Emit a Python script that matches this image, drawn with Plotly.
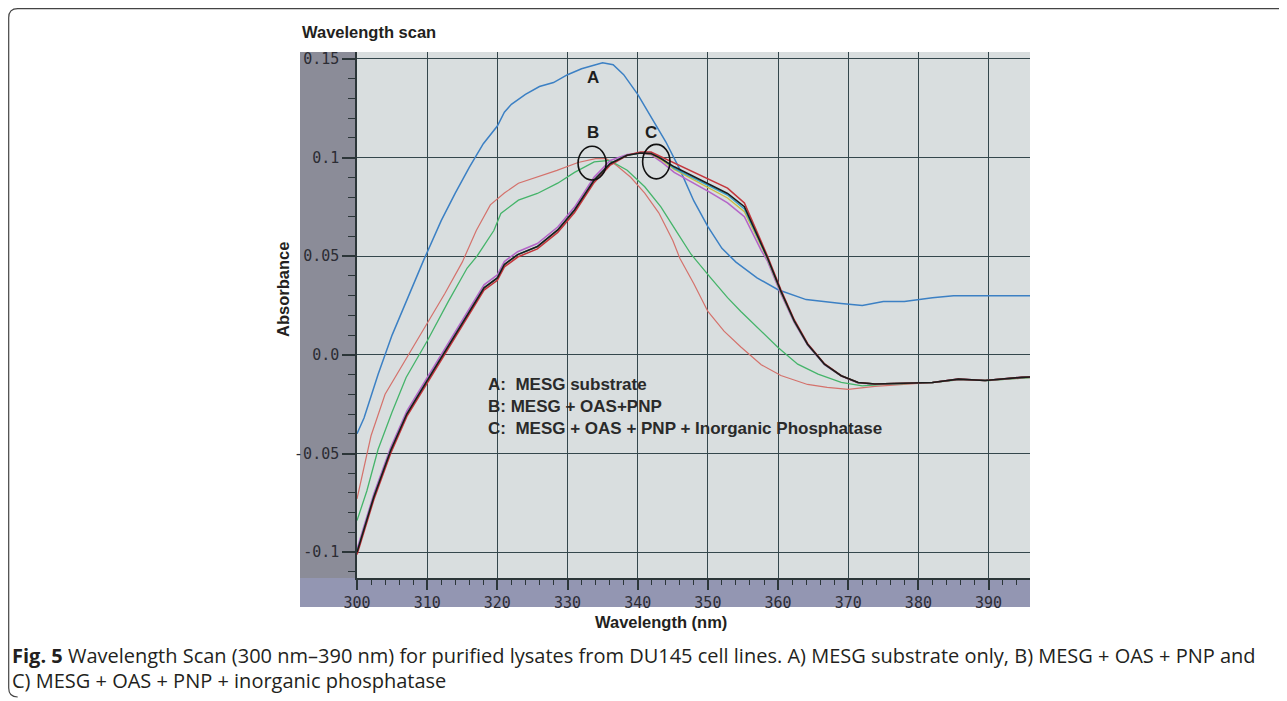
import plotly.graph_objects as go

# ---------------- data ----------------
A_x = [300, 301, 302, 303, 305, 307, 309.5, 312, 314, 316, 318, 320, 321, 322, 324, 326, 328, 330, 332, 334,
       335, 336.5, 338, 340, 342, 344, 346, 348, 350, 352, 354, 357, 360, 364, 369, 372, 375, 378, 382, 385, 390, 396]
A_y = [-0.040, -0.032, -0.021, -0.010, 0.010, 0.027, 0.048, 0.068, 0.082, 0.095, 0.107, 0.116, 0.123, 0.127, 0.132,
       0.136, 0.138, 0.142, 0.145, 0.147, 0.148, 0.147, 0.142, 0.132, 0.120, 0.108, 0.094, 0.078, 0.065, 0.054,
       0.047, 0.039, 0.033, 0.028, 0.026, 0.025, 0.027, 0.027, 0.029, 0.030, 0.030, 0.030]

B_red_x = [300, 302, 304, 307, 310, 312.5, 315, 317, 319, 321, 323, 325.5, 328.5, 331.5, 334, 335.5, 337, 339, 341,
           343, 345, 346, 348, 350, 352.3, 354.7, 357.6, 360.4, 364.2, 367, 370, 373.8, 377.6, 382, 386, 390, 396]
B_red_y = [-0.073, -0.041, -0.020, -0.002, 0.0155, 0.031, 0.047, 0.063, 0.076, 0.082, 0.087, 0.090, 0.0935, 0.0975,
           0.0995, 0.0995, 0.096, 0.090, 0.082, 0.072, 0.058, 0.049, 0.036, 0.022, 0.012, 0.004, -0.005, -0.0105,
           -0.015, -0.0165, -0.0175, -0.016, -0.015, -0.014, -0.0125, -0.013, -0.0115]

B_green_x = [300, 301.4, 303, 305, 307, 310, 313, 315.7, 317.1, 319.5, 320.5, 323, 325.7, 328.6, 331, 333.8, 336,
             338.5, 341, 343.3, 345.7, 347.6, 350.4, 352.8, 354.7, 357.1, 360, 362.8, 365.7, 369, 372, 375, 378,
             382, 386, 390, 396]
B_green_y = [-0.084, -0.069, -0.048, -0.029, -0.0115, 0.007, 0.027, 0.044, 0.050, 0.063, 0.0717, 0.0784, 0.0818,
             0.087, 0.0925, 0.0978, 0.0986, 0.0936, 0.0852, 0.075, 0.0616, 0.051, 0.039, 0.029, 0.022, 0.0138,
             0.0037, -0.0047, -0.0098, -0.014, -0.0157, -0.015, -0.0145, -0.014, -0.0125, -0.013, -0.0115]

C_x = [300, 302.4, 304.8, 307.1, 310, 312.9, 315.7, 318.1, 320, 321, 322.9, 325.7, 328.6, 331, 333.8, 336.1, 338.5,
       340.4, 341.9, 343.3, 345.2, 348, 350, 352.8, 355.2, 357.6, 358.5, 360.4, 362.3, 364.2, 366.6, 369, 371.4,
       373.8, 377.6, 382, 385.7, 389.5, 394.7, 396]
C_magenta = [-0.0985, -0.0705, -0.047, -0.0285, -0.0116, 0.0052, 0.022, 0.0355, 0.0405, 0.0473, 0.0523, 0.0564,
             0.0648, 0.0749, 0.0901, 0.0985, 0.1015, 0.1023, 0.1015, 0.098, 0.0925, 0.087, 0.083, 0.077, 0.070,
             0.053, 0.0475, 0.031, 0.0165, 0.005, -0.005, -0.0108, -0.0142, -0.0148, -0.0145, -0.014, -0.0123,
             -0.013, -0.0114, -0.0112]
C_yellow = [-0.100, -0.072, -0.0485, -0.030, -0.0131, 0.0037, 0.0205, 0.034, 0.039, 0.0458, 0.0508, 0.0549,
            0.0633, 0.0734, 0.0886, 0.097, 0.1012, 0.1023, 0.1018, 0.0990, 0.0940, 0.0885, 0.0850, 0.0795, 0.0725,
            0.0550, 0.0485, 0.0318, 0.0170, 0.0053, -0.0047, -0.0106, -0.014, -0.0148, -0.0145, -0.014, -0.0123,
            -0.013, -0.0114, -0.0112]
C_cyan = [-0.100, -0.072, -0.0485, -0.030, -0.0131, 0.0037, 0.0205, 0.034, 0.039, 0.0458, 0.0508, 0.0549,
          0.0633, 0.0734, 0.0886, 0.097, 0.1012, 0.1023, 0.1021, 0.0998, 0.0945, 0.0895, 0.0862, 0.0810, 0.0740,
          0.0560, 0.0490, 0.0322, 0.0172, 0.0054, -0.0047, -0.0106, -0.014, -0.0148, -0.0145, -0.014, -0.0123,
          -0.013, -0.0114, -0.0112]
C_red = [-0.1012, -0.0733, -0.0498, -0.0312, -0.0143, 0.0025, 0.0193, 0.0328, 0.0378, 0.0446, 0.0496, 0.0537,
         0.0621, 0.0722, 0.0874, 0.0962, 0.1012, 0.1028, 0.1028, 0.1005, 0.0970, 0.0925, 0.0895, 0.0845, 0.0770,
         0.0580, 0.0500, 0.0330, 0.0178, 0.0058, -0.0045, -0.0106, -0.014, -0.0148, -0.0145, -0.014, -0.0123,
         -0.013, -0.0114, -0.0112]
C_black = [-0.100, -0.072, -0.0485, -0.030, -0.0131, 0.0037, 0.0205, 0.034, 0.039, 0.0458, 0.0508, 0.0549,
           0.0633, 0.0734, 0.0886, 0.097, 0.1012, 0.1023, 0.102, 0.0995, 0.0953, 0.0902, 0.0869, 0.0818, 0.0751,
           0.0566, 0.0491, 0.0323, 0.0172, 0.0054, -0.0047, -0.0106, -0.014, -0.0148, -0.0145, -0.014, -0.0123,
           -0.013, -0.0114, -0.0112]

y_tickvals = [0.15, 0.1, 0.05, 0.0, -0.05, -0.1]
y_ticktext = ["0.15", "0.1", "0.05", "0.0", "-0.05", "-0.1"]
x_tickvals = [300, 310, 320, 330, 340, 350, 360, 370, 380, 390]
x_ticktext = [str(v) for v in x_tickvals]

curve_labels = ["A", "B", "C"]
curve_label_x = [333.6, 333.6, 341.9]
curve_label_y = [0.1404, 0.1125, 0.1125]

legend_lines = ["A:\u00a0\u00a0MESG substrate",
                "B: MESG + OAS+PNP",
                "C:\u00a0\u00a0MESG + OAS + PNP + Inorganic Phosphatase"]
legend_y = [-0.0152, -0.0263, -0.0374]

caption_1 = ("<b>Fig. 5</b> Wavelength Scan (300 nm\u2013390 nm) for purified lysates from DU145 cell lines. "
             "A) MESG substrate only, B) MESG\u00a0+\u00a0OAS\u00a0+\u00a0PNP and")
caption_2 = "C) MESG\u00a0+\u00a0OAS\u00a0+\u00a0PNP\u00a0+\u00a0inorganic phosphatase"

# ---------------- layout geometry (page pixels; the page body has an 8px margin) ----------------
OFF = 8
PAGE_W, PAGE_H = 1287, 701
W, H = PAGE_W - OFF, PAGE_H - OFF
L, R, T, B = 357, 1030, 52, 578   # plot area in page pixels


def pxx(x):
    return (x - L) / (R - L)


def pxy(y):
    return (B - y) / (B - T)


fig = go.Figure()


def add_line(x, y, color, width):
    fig.add_trace(go.Scatter(x=x, y=y, mode="lines", line=dict(color=color, width=width),
                             showlegend=False, hoverinfo="skip"))


add_line(A_x, A_y, "#3c80c4", 1.5)
add_line(B_red_x, B_red_y, "#d4726c", 1.2)
add_line(B_green_x, B_green_y, "#45b46a", 1.3)
add_line(C_x, C_magenta, "#b466c8", 1.6)
add_line(C_x, C_yellow, "#c9bf45", 1.4)
add_line(C_x, C_cyan, "#33a2c8", 1.4)
add_line(C_x, C_red, "#c4363c", 1.6)
add_line(C_x, C_black, "#1c1c1c", 1.6)

shapes = []
# scanner gray strips around the chart paper
shapes.append(dict(type="rect", xref="paper", yref="paper", x0=pxx(300), x1=pxx(L), y0=pxy(607), y1=pxy(T),
                   fillcolor="#8b8c98", line=dict(width=0), layer="below"))
shapes.append(dict(type="rect", xref="paper", yref="paper", x0=pxx(300), x1=pxx(R), y0=pxy(607), y1=pxy(B),
                   fillcolor="#9396b2", line=dict(width=0), layer="below"))
# figure frame (rounded left corners)
fx, fy, fb, r = 8.7, 8.7, 697, 9
frame = (f"M {pxx(PAGE_W)},{pxy(fy)} L {pxx(fx + r)},{pxy(fy)} Q {pxx(fx)},{pxy(fy)} {pxx(fx)},{pxy(fy + r)} "
         f"L {pxx(fx)},{pxy(fb - r)} Q {pxx(fx)},{pxy(fb)} {pxx(fx + r)},{pxy(fb)}")
shapes.append(dict(type="path", xref="paper", yref="paper", path=frame, line=dict(color="#444444", width=1.2)))
# ellipses around B and C
shapes.append(dict(type="circle", xref="x", yref="y", x0=331.5, x1=335.5, y0=0.0886, y1=0.1057,
                   line=dict(color="#111111", width=1.6)))
shapes.append(dict(type="circle", xref="x", yref="y", x0=340.7, x1=344.6, y0=0.0892, y1=0.1067,
                   line=dict(color="#111111", width=1.6)))

annotations = []
for t, x, y in zip(curve_labels, curve_label_x, curve_label_y):
    annotations.append(dict(x=x, y=y, xref="x", yref="y", text=f"<b>{t}</b>", showarrow=False,
                            font=dict(family="Liberation Sans, Arial", size=17, color="#1e1e1e")))
for t, y in zip(legend_lines, legend_y):
    annotations.append(dict(x=318.35, y=y, xref="x", yref="y", text=f"<b>{t}</b>", showarrow=False,
                            xanchor="left", yanchor="middle",
                            font=dict(family="Liberation Sans, Arial", size=17, color="#2a2a2a")))
annotations.append(dict(x=pxx(300), y=pxy(32), xref="paper", yref="paper", text="<b>Wavelength scan</b>",
                        showarrow=False, xanchor="left", yanchor="middle",
                        font=dict(family="Liberation Sans, Arial", size=16.5, color="#231f20")))
annotations.append(dict(x=pxx(283), y=pxy(290), xref="paper", yref="paper", text="<b>Absorbance</b>",
                        showarrow=False, textangle=-90, xanchor="center", yanchor="middle",
                        font=dict(family="Liberation Sans, Arial", size=16.5, color="#231f20")))
annotations.append(dict(x=pxx(661), y=pxy(622), xref="paper", yref="paper", text="<b>Wavelength (nm)</b>",
                        showarrow=False, xanchor="center", yanchor="middle",
                        font=dict(family="Liberation Sans, Arial", size=16.5, color="#231f20")))
annotations.append(dict(x=pxx(10), y=pxy(655), xref="paper", yref="paper", text=caption_1,
                        showarrow=False, xanchor="left", yanchor="middle",
                        font=dict(family="Open Sans", size=20, color="#231f20")))
annotations.append(dict(x=pxx(10), y=pxy(680), xref="paper", yref="paper", text=caption_2,
                        showarrow=False, xanchor="left", yanchor="middle",
                        font=dict(family="Open Sans", size=20, color="#231f20")))

grid_col = "#34474c"
fig.update_layout(
    width=W, height=H,
    margin=dict(l=L - OFF, r=PAGE_W - R, t=T - OFF, b=PAGE_H - B, autoexpand=False),
    paper_bgcolor="white",
    plot_bgcolor="#d9dedf",
    showlegend=False,
    shapes=shapes,
    annotations=annotations,
    xaxis=dict(range=[300, 395.9], tickmode="array", tickvals=x_tickvals, ticktext=x_ticktext,
               showgrid=True, gridcolor=grid_col, gridwidth=1.3, zeroline=False,
               showline=True, linecolor="#2b3538", linewidth=1.5,
               ticks="outside", ticklen=10, tickwidth=1.5, tickcolor="#2b3538",
               tickfont=dict(family="DejaVu Sans Mono", size=15, color="#2c2c34"),
               minor=dict(dtick=2, tick0=300, ticklen=5, tickwidth=1.2, tickcolor="#2b3538",
                          ticks="outside", showgrid=False),
               fixedrange=True),
    yaxis=dict(range=[-0.1131, 0.1535], tickmode="array", tickvals=y_tickvals, ticktext=y_ticktext,
               showgrid=True, gridcolor=grid_col, gridwidth=1.3, zeroline=False,
               showline=True, linecolor="#2b3538", linewidth=1.5,
               ticks="outside", ticklen=13, tickwidth=1.5, tickcolor="#2b3538",
               tickfont=dict(family="DejaVu Sans Mono", size=15, color="#2c2c34"),
               minor=dict(dtick=0.01, tick0=0, ticklen=7, tickwidth=1.2, tickcolor="#2b3538",
                          ticks="outside", showgrid=False),
               fixedrange=True),
)

fig.write_html("out.html")
